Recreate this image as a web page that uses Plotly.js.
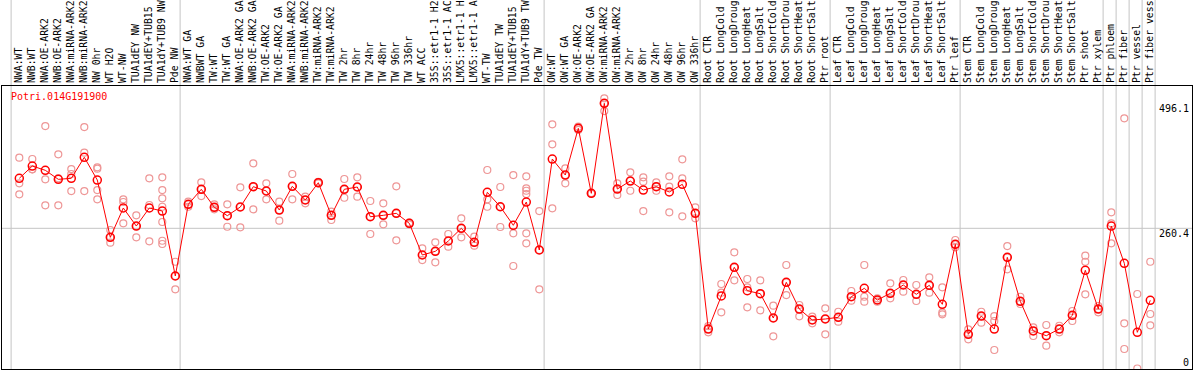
<!DOCTYPE html>
<html>
<head>
<meta charset="utf-8">
<script src="https://cdn.plot.ly/plotly-3.0.1.min.js"></script>
<style>html,body{margin:0;padding:0;background:#fff;}#chart{width:1194px;height:370px;}</style>
</head>
<body>
<div id="chart"></div>
<script>
const geneName = "Potri.014G191900";

const categories = [
  "NWA:WT","NWB:WT","NWA:OE-ARK2","NWB:OE-ARK2","NWA:miRNA-ARK2","NWB:miRNA-ARK2","NW 0hr","WT H2O","WT-NW",
  "TUA1dEY NW","TUA1dEY+TUB15","TUA1dY+TUB9 NW","Pde NW",
  "NWA:WT GA","NWBWT GA","TW:WT","TW:WT GA","NWA:OE-ARK2 GA","NWB:OE-ARK2 GA","TW:OE-ARK2","TW:OE-ARK2 GA",
  "NWA:miRNA-ARK2","NWB:miRNA-ARK2","TW:miRNA-ARK2","TW:miRNA-ARK2","TW 2hr","TW 8hr","TW 24hr","TW 48hr","TW 96hr","TW 336hr",
  "WT ACC","35S::etr1-1 H2","35S::etr1-1 AC","LMX5::etr1-1 H","LMX5::etr1-1 A","WT-TW","TUA1dEY TW","TUA1dEY+TUB15",
  "TUA1dY+TUB9 TW","Pde TW",
  "OW:WT","OW:WT GA","OW:OE-ARK2","OW:OE-ARK2 GA","OW:miRNA-ARK2","OW:miRNA-ARK2","OW 2hr","OW 8hr","OW 24hr","OW 48hr","OW 96hr","OW 336hr",
  "Root CTR","Root LongCold","Root LongDroug","Root LongHeat","Root LongSalt","Root ShortCold","Root ShortDrou","Root ShortHeat","Root ShortSalt","Ptr root",
  "Leaf CTR","Leaf LongCold","Leaf LongDroug","Leaf LongHeat","Leaf LongSalt","Leaf ShortCold","Leaf ShortDrou","Leaf ShortHeat","Leaf ShortSalt","Ptr leaf",
  "Stem CTR","Stem LongCold","Stem LongDroug","Stem LongHeat","Stem LongSalt","Stem ShortCold","Stem ShortDrou","Stem ShortHeat","Stem ShortSalt","Ptr shoot","Ptr xylem",
  "Ptr phloem","Ptr fiber","Ptr vessel","Ptr fiber vess"
];

const means = [
  354.7,377.9,369.8,352.8,354.7,394.3,351.5,243.4,298.7,264.7,298.7,293.0,170.5,
  305.7,334.0,300.0,284.2,300.6,338.9,330.8,294.9,339.6,313.8,346.4,284.9,334.0,338.3,282.3,284.9,288.7,269.8,
  210.1,217.0,236.5,260.4,234.0,328.3,301.1,266.1,310.0,219.5,
  391.1,360.9,449.0,326.4,496.1,334.5,349.6,332.6,338.9,328.9,343.4,288.7,
  70.5,132.8,186.9,142.7,137.1,91.3,158.6,108.2,87.5,89.4,
  92.6,131.4,147.3,125.2,137.8,153.5,136.0,152.9,117.1,230.2,
  60.5,95.0,70.5,205.7,122.8,66.8,57.9,70.5,96.4,181.2,108.2,
  264.7,194.4,64.3,124.6
];

const replicates = [
  [393.6,345.3,324.5],[391.1,371.7,371.7],[453.3,352.8,303.8],[400.0,354.7,303.8],[372.2,362.8,330.7],
  [451.4,403.0,330.7],[375.4,372.8,332.6,315.1],[257.2,243.4,233.3],[315.1,310.0,269.8],[284.9,264.7,243.4],
  [354.7,304.4,235.9],[356.6,332.6,317.0,301.1,272.3,237.0,230.8],[197.4,170.5,145.4],
  [310.6,305.7,301.1],[347.2,334.0,321.3],[305.7,300.0,296.3],[305.7,284.2,263.4],[337.7,300.6,262.3],
  [383.0,338.9,296.3],[345.3,330.8,315.1],[310.6,294.9,274.8],[362.8,339.6,315.1],[320.0,313.8,307.6],
  [348.0,346.4,345.0],[291.7,284.9,276.1],[353.4,334.0,318.1],[356.6,338.3,320.0],[311.9,282.3,249.7],
  [307.6,284.9,268.0],[339.6,288.7,237.8],[271.0,269.8,268.0],
  [222.7,210.1,200.6],[234.0,217.0,196.3],[249.7,236.5,225.7],[279.3,260.4,243.4],[244.6,234.0,227.6],
  [370.4,315.1,301.1],[338.3,301.1,262.9],[360.9,251.0,189.3],[358.5,335.8,331.3,325.1,251.0,232.1],
  [293.0,219.5,145.4],
  [456.5,418.8,298.1],[373.6,360.9,345.3],[452.0,449.0,446.0],[327.0,326.4,326.0],[505.6,496.1,481.6],
  [345.3,334.5,323.2],[366.0,349.6,331.3],[356.6,348.3,293.0],[347.2,338.9,331.3],[358.5,338.9,290.6],
  [390.5,354.7,283.0],[300.0,288.7,279.3],
  [76.0,70.5,64.3],[155.4,139.0,102.0],[215.2,186.9,162.4],[164.8,149.2,111.4],[162.4,137.1,105.8],
  [114.5,91.3,56.8],[191.2,158.6,134.6],[115.8,108.2,94.5],[94.0,87.5,81.3],[109.6,89.4,60.5],
  [103.1,92.6,84.3],[142.2,131.4,123.9],[191.2,131.4,122.0],[128.4,125.2,122.0],[156.7,137.8,128.4],
  [162.9,153.5,140.9],[153.5,136.0,123.3],[168.0,152.9,139.0],[149.2,101.3,98.2],[238.4,230.2,224.6],
  [70.0,60.5,51.1],[103.1,95.0,82.4],[95.0,85.6,30.9],[227.0,205.7,183.1],[131.4,122.8,117.7],
  [73.7,66.8,57.3],[78.1,57.9,39.0],[76.7,70.5,64.3],[104.5,96.4,85.6],[208.8,197.4,136.0],
  [113.9,108.2,102.0],
  [290.6,269.8,232.1],[467.8,81.3,32.8],[136.5,-4.0],[197.4,98.8,77.5]
];

// last category index of each tissue group (separators drawn after these)
const groupEnds = [-1, 12, 40, 52, 62, 72, 83, 84, 85, 86, 87];
const valueLabels = [496.1, 260.4, 0];
const refLine = 260.4;

// ---- build ----
const idx = categories.map((c, i) => i);
const repX = [], repY = [];
replicates.forEach((arr, i) => arr.forEach(v => { repX.push(i); repY.push(v); }));

const W = 1194, H = 370;
const mL = 2, mR = 2, mT = 86, mB = 1;
const plotW = W - mL - mR, plotH = H - mT - mB;
const step = 13, firstPx = 19.3;
const xr = [-(firstPx - mL) / step, (W - mR - firstPx) / step];
const yr = [-4.9, 528.8];
const toPaperX = v => (v - xr[0]) / (xr[1] - xr[0]);

const mono = "DejaVu Sans Mono, monospace";

const shapes = [];
groupEnds.forEach(g => {
  const xp = toPaperX(g + 0.37);
  shapes.push({type: "line", xref: "paper", yref: "paper", x0: xp, x1: xp, y0: 0, y1: (H - mB) / plotH,
    line: {color: "#c4c4c4", width: 1}, layer: "below"});
});
shapes.push({type: "line", xref: "paper", yref: "y", x0: 0, x1: 1, y0: refLine, y1: refLine,
  line: {color: "#c4c4c4", width: 1}, layer: "below"});

const annotations = valueLabels.map(v => ({
  xref: "paper", yref: "y", x: 1, y: v, xanchor: "right", yanchor: v === 0 ? "bottom" : "top",
  text: String(v), showarrow: false, xshift: -1, yshift: v === 0 ? -4 : 2,
  font: {family: mono, size: 10, color: "#000"}
}));
annotations.push({
  xref: "paper", yref: "paper", x: (9 - mL) / plotW, y: (H - mB - 96.5) / plotH,
  xanchor: "left", yanchor: "middle", text: geneName, showarrow: false,
  font: {family: mono, size: 10, color: "#ff0000"}
});

const traces = [
  {x: repX, y: repY, type: "scatter", mode: "markers", cliponaxis: true,
   marker: {symbol: "circle-open", size: 7, color: "rgb(238,150,150)", line: {width: 1.2, color: "rgb(238,150,150)"}},
   hoverinfo: "skip"},
  {x: idx, y: means, type: "scatter", mode: "lines+markers",
   line: {color: "#ff0000", width: 1},
   marker: {symbol: "circle-open", size: 8, color: "#ff0000", line: {width: 1.5, color: "#ff0000"}},
   hoverinfo: "skip"}
];

const layout = {
  width: W, height: H,
  margin: {l: mL, r: mR, t: mT, b: mB, pad: 0},
  paper_bgcolor: "#fff", plot_bgcolor: "#fff",
  showlegend: false,
  xaxis: {range: xr, side: "top", tickmode: "array", tickvals: idx, ticktext: categories,
    tickangle: -90, ticks: "", showgrid: false, zeroline: false,
    showline: true, mirror: true, linecolor: "#000", linewidth: 1,
    tickfont: {family: mono, size: 9.8, color: "#000"}, automargin: false},
  yaxis: {range: yr, showticklabels: false, ticks: "", showgrid: false, zeroline: false,
    showline: true, mirror: true, linecolor: "#000", linewidth: 1, automargin: false},
  shapes: shapes,
  annotations: annotations,
  hovermode: false
};

Plotly.newPlot("chart", traces, layout, {staticPlot: true, displayModeBar: false});
</script>
</body>
</html>
